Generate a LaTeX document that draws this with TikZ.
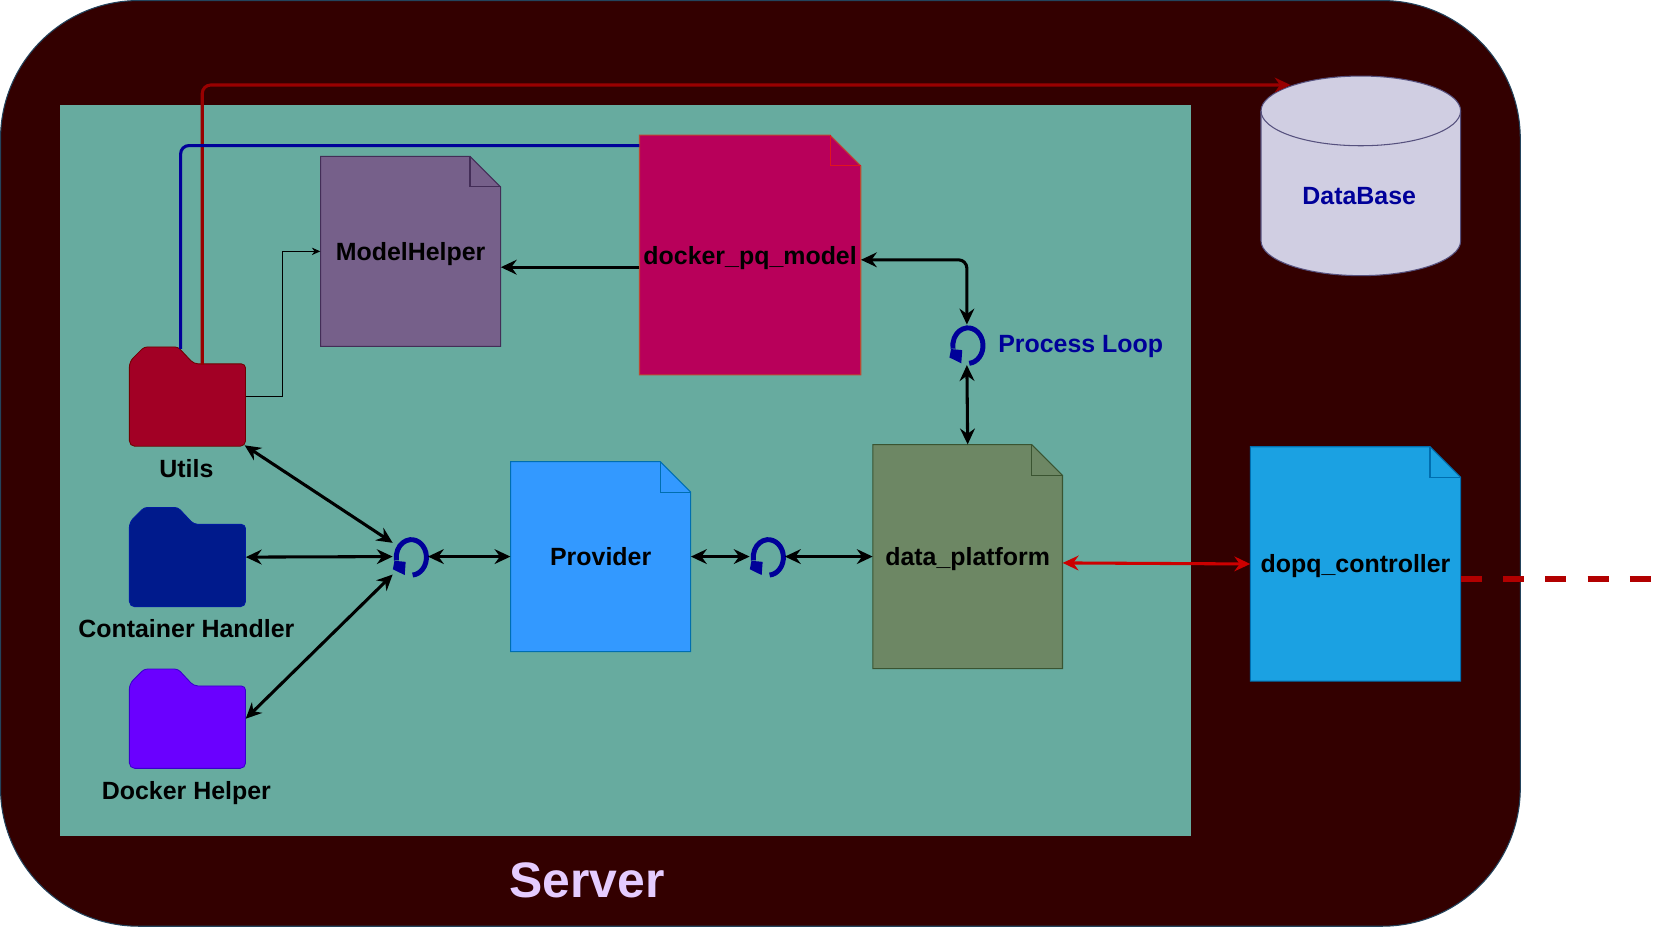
\documentclass[tikz,border=0pt]{standalone}
\usepackage{fontspec}
\setmainfont{Liberation Sans}
\usetikzlibrary{arrows.meta,calc}
\definecolor{outerc}{HTML}{330000}
\definecolor{outerl}{HTML}{23445D}
\definecolor{innerc}{HTML}{67AB9F}
\definecolor{blu}{HTML}{000099}
\definecolor{redl}{HTML}{990000}
\definecolor{redm}{HTML}{CC0000}
\tikzset{
  lbl/.style={font=\fontsize{23.6}{28}\selectfont\bfseries,inner sep=0pt,text=black,text height=22pt,text depth=5pt},
  conn/.style={draw=black,line width=2.9pt,{Stealth[length=15pt,width=14pt,inset=5pt]}-{Stealth[length=15pt,width=14pt,inset=5pt]}},
  oneway/.style={draw=black,line width=2.9pt,-{Stealth[length=15pt,width=14pt,inset=5pt]}},
  loopmark/.style={inner sep=0pt,minimum width=33pt,minimum height=38pt}
}
% name, x0, y0, x1, y1, fold, fill, line, text
\newcommand\docnode[9]{%
  \filldraw[fill=#7,draw=#8,line width=1pt] (#2,#3) -- (#4-#6,#3) -- (#4,#3+#6) -- (#4,#5) -- (#2,#5) -- cycle;
  \draw[draw=#8,line width=1pt] (#4-#6,#3) -- (#4-#6,#3+#6) -- (#4,#3+#6);
  \path let \n1={(#4-#2)*1pt},\n2={(#5-#3)*1pt} in
    node[lbl,minimum width=\n1,minimum height=\n2] (#1) at ({(#2+#4)/2},{(#3+#5)/2}) {#9};
}
% name, x0, y0, fill, line
\newcommand\foldernode[5]{%
  \begin{scope}[shift={(#2,#3)}]
  \filldraw[fill=#4,draw=#5,line width=0.8pt,rounded corners=5pt]
    (0,94) -- (0,14) [rounded corners=3pt] -- (14,0) -- (46,0) [rounded corners=4pt] -- (61,16) -- (110,16) [rounded corners=5pt] -- (110,94) -- cycle;
  \node[inner sep=0pt,minimum width=110pt,minimum height=94pt] (#1) at (55,47) {};
  \end{scope}
}
\newcommand\loopnode[2]{%
  \node[loopmark] (#1) at #2 {};
  \draw[blu,line width=4.7pt] ($(#1.center)+(2.2,17.5)$) arc[start angle=-85,end angle=190,x radius=14.3pt,y radius=16.8pt];
  \fill[blu] ($(#1.center)+(-16.5,12)$) -- ($(#1.center)+(-5.3,17.5)$) -- ($(#1.center)+(-4.4,5)$) -- ($(#1.center)+(-15,4)$) -- cycle;
}
\begin{document}
\begin{tikzpicture}[x=1pt,y=-1pt]
\useasboundingbox (0,0) rectangle (1568,878);
\fill[white] (0,0) rectangle (1568,878);
% server
\filldraw[fill=outerc,draw=outerl,line width=1pt,rounded corners=131pt] (0.5,0.5) rectangle (1439.5,877);
\node[font=\fontsize{47.2}{56}\selectfont\bfseries,text={rgb,255:red,229;green,204;blue,255},inner sep=0pt] (server) at (556,834) {Server};
\fill[innerc] (57,99.5) rectangle (1127.5,791.5);
% database
\filldraw[fill={rgb,255:red,208;green,206;blue,226},draw={rgb,255:red,86;green,81;blue,126},line width=1pt]
  (1194,105) arc[start angle=180,end angle=0,x radius=94.5pt,y radius=33pt] -- (1383,228) arc[start angle=0,end angle=-180,x radius=94.5pt,y radius=33pt] -- cycle;
\draw[draw={rgb,255:red,86;green,81;blue,126},line width=1pt] (1194,105) arc[start angle=180,end angle=360,x radius=94.5pt,y radius=33pt];
\node[inner sep=0pt,minimum width=189pt,minimum height=189pt] (db) at (1288.5,166.5) {};
\node[lbl,text=blu] (dbtext) at (1287,185) {DataBase};
% documents
\docnode{model}{303.5}{148}{474}{328}{29}{{rgb,255:red,118;green,96;blue,138}}{{rgb,255:red,67;green,45;blue,87}}{ModelHelper}
\docnode{dockerpq}{605.5}{128}{815}{355}{29}{{rgb,255:red,184;green,0;blue,90}}{{rgb,255:red,190;green,70;blue,50}}{docker\_pq\_model}
\draw[draw={rgb,255:red,225;green,20;blue,30},line width=1pt] ($(dockerpq.north east)+(-29,0)$) -- ($(dockerpq.north east)+(-29,29)$) -- ($(dockerpq.north east)+(0,29)$);
\docnode{provider}{483.5}{437}{654}{617}{29}{{rgb,255:red,51;green,153;blue,255}}{{rgb,255:red,0;green,110;blue,175}}{Provider}
\docnode{platform}{826.5}{421}{1006}{633}{29}{{rgb,255:red,109;green,135;blue,100}}{{rgb,255:red,58;green,84;blue,49}}{data\_platform}
\docnode{dopq}{1184}{423}{1383}{645}{29}{{rgb,255:red,27;green,161;blue,226}}{{rgb,255:red,0;green,110;blue,175}}{dopq\_controller}
% folders
\foldernode{utils}{122.5}{328.5}{{rgb,255:red,162;green,0;blue,37}}{{rgb,255:red,111;green,0;blue,0}}
\foldernode{container}{122.5}{480.5}{{rgb,255:red,0;green,26;blue,140}}{{rgb,255:red,0;green,26;blue,160}}
\foldernode{helper}{122.5}{633.5}{{rgb,255:red,106;green,0;blue,255}}{{rgb,255:red,55;green,0;blue,204}}
\node[lbl] (utilst) at (176.5,444) {Utils};
\node[lbl] (containert) at (176.5,595) {Container Handler};
\node[lbl] (helpert) at (176.5,748.5) {Docker Helper};
% loops
\loopnode{loopa}{(388.5,527)}
\loopnode{loopb}{(726.5,527)}
\loopnode{loopc}{(915.5,326.5)}
\node[lbl,text=blu,anchor=west] (looptext) at (945,325) {Process Loop};
% connectors
\coordinate (dbin) at (1222,80.5);
\draw[redl,line width=2.9pt,rounded corners=8pt,-{Stealth[length=15pt,width=14pt,inset=5pt]}] ($(utils.north)+(14,17)$) |- (dbin);
\draw[blu,line width=2.9pt,rounded corners=8pt] ($(utils.north)+(-6.5,2)$) |- ($(dockerpq.north west)+(0,10)$);
\draw[oneway] ($(dockerpq.west)+(0,11.5)$) -- ($(model.east)+(0,15)$);
\draw[black,line width=1pt,-{Stealth[length=8pt,width=7pt,inset=2.5pt]}] (utils.east) -- ++(35,0) |- (model.west);
\draw[conn,rounded corners=8pt] ($(dockerpq.east)+(0,4.5)$) -| (loopc.north);
\draw[conn] (loopc.south) -- (platform.north);
\draw[conn] ($(utils.south east)+(-1,-1)$) -- ($(loopa.west)+(0,-13)$);
\draw[conn] (container.east) -- (loopa.west);
\draw[conn] (helper.east) -- ($(loopa.west)+(0,17)$);
\draw[conn] (loopa.east) -- (provider.west);
\draw[conn] (provider.east) -- (loopb.west);
\draw[conn] (loopb.east) -- (platform.west);
\draw[redm,line width=2.9pt,{Stealth[length=15pt,width=14pt,inset=5pt]}-{Stealth[length=15pt,width=14pt,inset=5pt]}] ($(platform.east)+(0,6)$) -- (dopq.west);
\coordinate (dashend) at (1563,548.5);
\draw[draw={rgb,255:red,178;green,0;blue,0},line width=6pt,dash pattern=on 20pt off 20pt] ($(dopq.east)+(0,14.5)$) -- (dashend);
\end{tikzpicture}
\end{document}
